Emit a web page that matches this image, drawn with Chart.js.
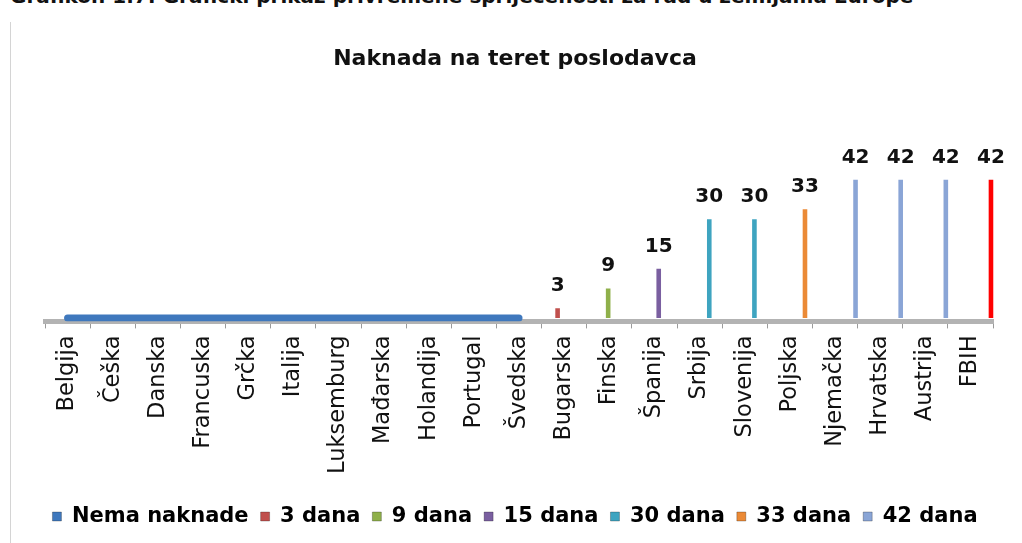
<!DOCTYPE html>
<html>
<head>
<meta charset="utf-8">
<script src="https://cdn.jsdelivr.net/npm/chart.js@4.4.1/dist/chart.umd.min.js"></script>
<style>
  html, body { margin: 0; padding: 0; background: #fff; overflow: hidden; }
  #wrap { position: relative; width: 1022px; height: 543px; overflow: hidden; }
  #cap { position: absolute; left: 10px; top: -15px; font: bold 20px "DejaVu Sans", sans-serif; color: #111; white-space: nowrap; line-height: 22px; }
  #edge { position: absolute; left: 10px; top: 22px; width: 0; height: 521px; border-left: 1px solid #d4d4d4; }
  canvas { position: absolute; left: 0; top: 0; }
</style>
</head>
<body>
<div id="wrap">
  <div id="cap">Grafikon 1.7: Grafički prikaz privremene spriječenosti za rad u zemljama Europe</div>
  <div id="edge"></div>
  <canvas id="c" width="1022" height="543" style="width:1022px;height:543px"></canvas>
</div>
<script>
const chartTitle = "Naknada na teret poslodavca";
const countries = ["Belgija", "Češka", "Danska", "Francuska", "Grčka", "Italija", "Luksemburg", "Mađarska", "Holandija", "Portugal", "Švedska", "Bugarska", "Finska", "Španija", "Srbija", "Slovenija", "Poljska", "Njemačka", "Hrvatska", "Austrija", "FBIH"];
const seriesNames = ["Nema naknade", "3 dana", "9 dana", "15 dana", "30 dana", "33 dana", "42 dana"];
const nemaNaknade = [0, 0, 0, 0, 0, 0, 0, 0, 0, 0, 0, null, null, null, null, null, null, null, null, null, null];
const dana3  = [null, null, null, null, null, null, null, null, null, null, null, 3, null, null, null, null, null, null, null, null, null];
const dana9  = [null, null, null, null, null, null, null, null, null, null, null, null, 9, null, null, null, null, null, null, null, null];
const dana15 = [null, null, null, null, null, null, null, null, null, null, null, null, null, 15, null, null, null, null, null, null, null];
const dana30 = [null, null, null, null, null, null, null, null, null, null, null, null, null, null, 30, 30, null, null, null, null, null];
const dana33 = [null, null, null, null, null, null, null, null, null, null, null, null, null, null, null, null, 33, null, null, null, null];
const dana42 = [null, null, null, null, null, null, null, null, null, null, null, null, null, null, null, null, null, 42, 42, 42, 42];

const colNema = "#3f78bd";
const col42 = "#8aa5d6";
const col42Bars = countries.map(c => c === "FBIH" ? "#ff0000" : col42);

// 3D-style depth shift of the bar series (drawn slightly behind the axis front edge)
const depthShift = 7;

const depth = {
  id: "depth",
  beforeDatasetDraw(chart, args) {
    if (args.meta.type !== "bar") return;
    chart.ctx.save();
    chart.ctx.translate(depthShift, 0);
  },
  afterDatasetDraw(chart, args) {
    if (args.meta.type !== "bar") return;
    chart.ctx.restore();
  }
};

const valueLabels = {
  id: "valueLabels",
  afterDatasetsDraw(chart) {
    const ctx = chart.ctx;
    ctx.save();
    ctx.font = "bold 20px 'DejaVu Sans', sans-serif";
    ctx.fillStyle = "#111";
    ctx.textAlign = "center";
    ctx.textBaseline = "alphabetic";
    chart.data.datasets.forEach((ds, di) => {
      if (ds.type === "line") return;
      const meta = chart.getDatasetMeta(di);
      meta.data.forEach((el, i) => {
        const v = ds.data[i];
        if (v === null || v === undefined) return;
        ctx.fillText(String(v), el.x + depthShift, el.y - 17);
      });
    });
    ctx.restore();
  }
};

const barCommon = { categoryPercentage: 0.72, barPercentage: 0.85 };
const spacerAxis = (pos, w) => ({
  type: "linear", position: pos, display: true,
  ticks: { display: false }, grid: { display: false }, border: { display: false },
  afterFit(s) { s.width = w; }
});

new Chart(document.getElementById("c"), {
  data: {
    labels: countries,
    datasets: [
      { type: "line", label: seriesNames[0], data: nemaNaknade, borderColor: colNema, backgroundColor: colNema, borderWidth: 7, pointRadius: 0, borderCapStyle: "round", spanGaps: false, order: 0 },
      Object.assign({ type: "bar", label: seriesNames[1], data: dana3,  backgroundColor: "#c0504d" }, barCommon),
      Object.assign({ type: "bar", label: seriesNames[2], data: dana9,  backgroundColor: "#8fb04a" }, barCommon),
      Object.assign({ type: "bar", label: seriesNames[3], data: dana15, backgroundColor: "#7a5fa0" }, barCommon),
      Object.assign({ type: "bar", label: seriesNames[4], data: dana30, backgroundColor: "#3ea4c0" }, barCommon),
      Object.assign({ type: "bar", label: seriesNames[5], data: dana33, backgroundColor: "#eb8a36" }, barCommon),
      Object.assign({ type: "bar", label: seriesNames[6], data: dana42, backgroundColor: col42Bars }, barCommon)
    ]
  },
  options: {
    responsive: false,
    animation: false,
    devicePixelRatio: 1,
    layout: { padding: { left: 24, right: 16, top: 0, bottom: 6 } },
    plugins: {
      title: {
        display: true,
        text: chartTitle,
        color: "#111",
        font: { family: "'DejaVu Sans', sans-serif", size: 22, weight: "bold" },
        padding: { top: 46, bottom: 10 }
      },
      legend: {
        position: "bottom",
        labels: {
          color: "#111",
          font: { family: "'DejaVu Sans', sans-serif", size: 21, weight: "bold" },
          boxWidth: 9,
          boxHeight: 9,
          padding: 12,
          generateLabels(chart) {
            return chart.data.datasets.map((ds, i) => ({
              text: ds.label,
              fillStyle: i === 0 ? colNema : (i === 6 ? col42 : ds.backgroundColor),
              strokeStyle: "rgba(0,0,0,0.25)",
              lineWidth: 1,
              hidden: false,
              datasetIndex: i
            }));
          }
        }
      },
      tooltip: { enabled: false }
    },
    scales: {
      x: {
        offset: true,
        grid: { display: true, drawOnChartArea: false, offset: true, color: "#9a9a9a", tickLength: 7, lineWidth: 1 },
        border: { display: true, color: "#b3b3b3", width: 5 },
        ticks: {
          color: "#111",
          font: { family: "'DejaVu Sans', sans-serif", size: 22.5 },
          minRotation: 90,
          maxRotation: 90,
          autoSkip: false,
          padding: 7
        },
        afterFit(scale) { scale.height += 13; }
      },
      y: Object.assign(spacerAxis("left", 21), { min: -1, max: 71.5 }),
      yR: spacerAxis("right", 13)
    }
  },
  plugins: [depth, valueLabels]
});
</script>
</body>
</html>
